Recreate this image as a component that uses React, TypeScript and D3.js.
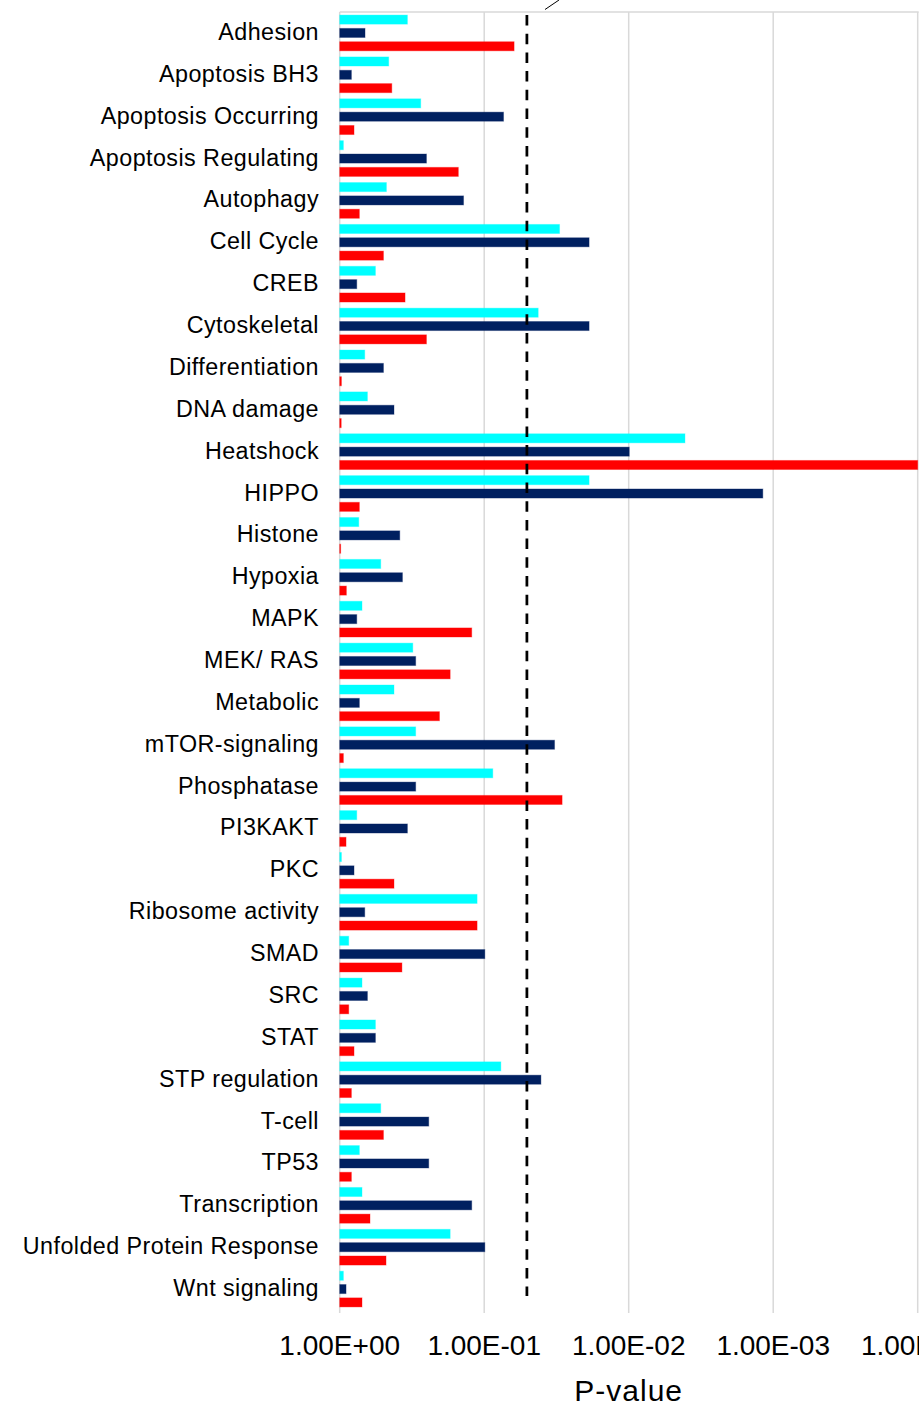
import React from "react";
import * as d3 from "d3";

const categories = [
  "Adhesion", "Apoptosis BH3", "Apoptosis Occurring", "Apoptosis Regulating", "Autophagy",
  "Cell Cycle", "CREB", "Cytoskeletal", "Differentiation", "DNA damage", "Heatshock", "HIPPO",
  "Histone", "Hypoxia", "MAPK", "MEK/ RAS", "Metabolic", "mTOR-signaling", "Phosphatase",
  "PI3KAKT", "PKC", "Ribosome activity", "SMAD", "SRC", "STAT", "STP regulation", "T-cell",
  "TP53", "Transcription", "Unfolded Protein Response", "Wnt signaling",
];

// p-values per series
const cyanSeries = [
  0.34, 0.458, 0.275, 0.943, 0.475, 0.0301, 0.566, 0.0423, 0.671, 0.643, 0.00408, 0.0188,
  0.738, 0.52, 0.701, 0.312, 0.421, 0.298, 0.0872, 0.762, 0.973, 0.112, 0.866, 0.701, 0.566,
  0.0767, 0.52, 0.731, 0.701, 0.172, 0.943,
];
const navySeries = [
  0.668, 0.83, 0.0735, 0.251, 0.139, 0.0188, 0.762, 0.0188, 0.498, 0.421, 0.00991, 0.00118,
  0.384, 0.368, 0.762, 0.298, 0.731, 0.0326, 0.298, 0.34, 0.796, 0.671, 0.099, 0.643, 0.566,
  0.0405, 0.242, 0.242, 0.122, 0.099, 0.904,
];
const redSeries = [
  0.0621, 0.436, 0.796, 0.151, 0.731, 0.498, 0.353, 0.251, 0.973, 0.976, 0.0001, 0.731,
  0.985, 0.899, 0.122, 0.172, 0.204, 0.943, 0.0289, 0.904, 0.421, 0.112, 0.371, 0.866, 0.796,
  0.83, 0.498, 0.83, 0.617, 0.478, 0.701,
];
const seriesColors = ["#00FFFF", "#002060", "#FF0000"];
const tickValues = [1, 0.1, 0.01, 0.001, 0.0001];
const tickLabels = ["1.00E+00", "1.00E-01", "1.00E-02", "1.00E-03", "1.00E-04"];
const threshold = 0.05;

export default function App() {
  const W = 919, H = 1409;
  const x0 = 339.7, x1 = 917.7, top = 12, bottom = 1310;
  const x = d3.scaleLog().domain([1, 0.0001]).range([x0, x1]);
  const y = d3.scaleBand().domain(categories).range([top, bottom]).padding(0);
  const band = y.bandwidth();
  const sub = d3.scaleBand<number>().domain([0, 1, 2])
    .range([band / 2 - 20, band / 2 + 20]).paddingInner(0.32).paddingOuter(0.16);
  const allSeries = [cyanSeries, navySeries, redSeries];
  const font = "'Liberation Sans', Arial, sans-serif";

  return (
    <svg width={W} height={H} style={{ position: "absolute", left: 0, top: 0, background: "#fff" }}
      fontFamily={font}>
      <rect x={0} y={0} width={W} height={H} fill="#fff" />
      {/* gridlines */}
      {tickValues.map((t, i) => (
        <line key={"g" + i} x1={x(t)} x2={x(t)} y1={top} y2={bottom + 3}
          stroke="#D9D9D9" strokeWidth={1.5} />
      ))}
      <line x1={x0} x2={x1 + 1} y1={top} y2={top} stroke="#D9D9D9" strokeWidth={1.5} />
      {/* bars */}
      {allSeries.map((s, si) =>
        s.map((v, ci) => {
          const yy = (y(categories[ci]) as number) + (sub(si) as number);
          const w = Math.max(0.5, x(v) - x0);
          return (
            <rect key={si + "-" + ci} x={x0} y={yy} width={Math.min(w, x1 - x0)}
              height={sub.bandwidth()} fill={seriesColors[si]}
              stroke={seriesColors[si]} strokeOpacity={0.35} strokeWidth={1} />
          );
        })
      )}
      {/* threshold dashed line */}
      <line x1={x(threshold) - 0.8} x2={x(threshold) - 0.8} y1={15} y2={1296}
        stroke="#000" strokeWidth={2.75} strokeDasharray="10.5 8.2" />
      {/* small leader line */}
      <line x1={545} y1={9.5} x2={559} y2={0} stroke="#000" strokeWidth={1} />
      {/* category labels */}
      {categories.map((c) => (
        <text key={c} x={319} y={(y(c) as number) + band / 2 + 7} textAnchor="end"
          fontSize={23.3} letterSpacing={0.45} fill="#000">{c}</text>
      ))}
      {/* tick labels */}
      {tickValues.map((t, i) => (
        <text key={"t" + i} x={x(t)} y={1355} textAnchor="middle" fontSize={28} fill="#000">
          {tickLabels[i]}
        </text>
      ))}
      <text x={(x0 + x1) / 2} y={1401} textAnchor="middle" fontSize={30} letterSpacing={1} fill="#000">
        P-value
      </text>
    </svg>
  );
}
